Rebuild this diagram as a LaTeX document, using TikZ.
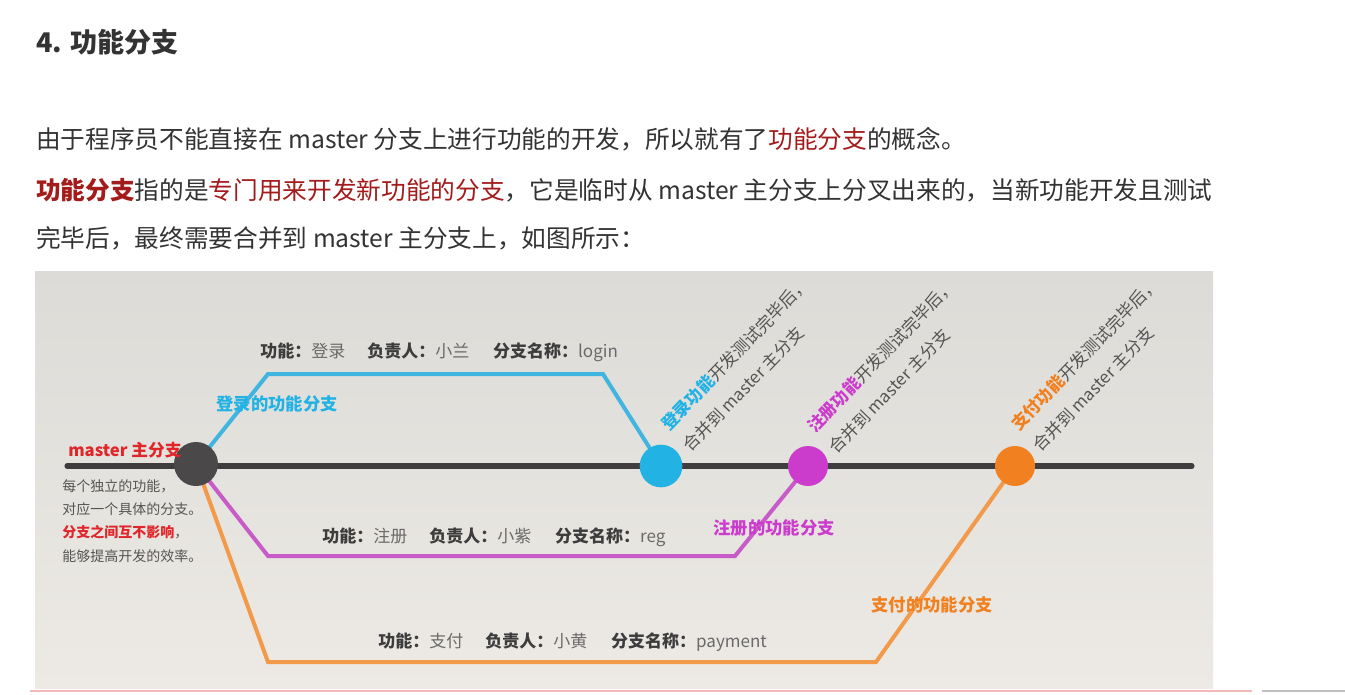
\documentclass[tikz,border=0pt]{standalone}
\usepackage{fontspec}
\setmainfont{Noto Sans CJK SC}
\definecolor{textgray}{HTML}{333333}
\definecolor{darkred}{HTML}{A31B1B}
\definecolor{keygray}{HTML}{3D3D3D}
\definecolor{valgray}{HTML}{6A6A6A}
\definecolor{rotgray}{HTML}{555555}
\definecolor{bluec}{HTML}{22B2E4}
\definecolor{bluel}{HTML}{3FB5E0}
\definecolor{magc}{HTML}{CC3CCC}
\definecolor{magl}{HTML}{C75BC7}
\definecolor{orgc}{HTML}{F08020}
\definecolor{orgl}{HTML}{F2994A}
\definecolor{masterc}{HTML}{4A4848}
\definecolor{masterl}{HTML}{3F3D3D}
\definecolor{bgtop}{HTML}{DCDBD7}
\definecolor{bgbot}{HTML}{EDEAE5}
\definecolor{brightred}{HTML}{E0262A}
\definecolor{pinkline}{HTML}{F2B8B8}
\pgfdeclarelayer{bg}
\pgfdeclarelayer{lines}
\pgfsetlayers{bg,lines,main}
\newcommand{\kv}[2]{{\bfseries\color{keygray}#1：}{\color{valgray}#2}}
\begin{document}
\begin{tikzpicture}[x=0.75pt,y=-0.75pt,
  txt/.style={inner sep=0pt, anchor=base west, text=textgray},
  para/.style={txt, font=\fontsize{18.5}{20}\selectfont},
  lbl/.style={txt, font=\fontsize{12.75}{14}\selectfont},
  side/.style={txt, font=\fontsize{10.5}{12}\selectfont, text=rotgray},
  rot/.style={inner sep=0pt, anchor=south west, rotate=46, text=rotgray, align=left, font=\fontsize{12.7}{22.8}\selectfont},
  brlbl/.style={inner sep=0pt, font=\bfseries\fontsize{13}{15}\selectfont},
  dot/.style={circle, inner sep=0pt, minimum size=#1},
  branch/.style={line width=3pt, line join=miter}]
\useasboundingbox (0,0) rectangle (1345,694);
\begin{pgfonlayer}{bg}
\fill[white] (0,0) rectangle (1345,694);
\shade[top color=bgtop, bottom color=bgbot] (35,271) rectangle (1213,688);
\draw[pinkline, line width=1pt] (30,691) -- (1252,691);
\draw[black!25, line width=0.8pt] (1262,691) -- (1345,691);
\end{pgfonlayer}

% heading and paragraphs
\node[txt, font=\bfseries\fontsize{20.3}{22}\selectfont] (title) at (36,52) {4. 功能分支};
\node[para] (p1) at (36,148) {由于程序员不能直接在 master 分支上进行功能的开发，所以就有了\textcolor{darkred}{功能分支}的概念。};
\node[para] (p2) at (36,199) {\textcolor{darkred}{\bfseries 功能分支}指的是\textcolor{darkred}{专门用来开发新功能的分支}，它是临时从 master 主分支上分叉出来的，当新功能开发且测试};
\node[para] (p3) at (36,247) {完毕后，最终需要合并到 master 主分支上，如图所示：};

% circles
\node[dot=33pt, fill=masterc] (m) at (196,464) {};
\node[dot=32pt, fill=bluec] (b) at (661,466) {};
\node[dot=30pt, fill=magc] (r) at (808,466) {};
\node[dot=30pt, fill=orgc] (o) at (1015,466) {};

% corners
\coordinate (b1) at (268,374);
\coordinate (b2) at (603,374);
\coordinate (r1) at (268,556);
\coordinate (r2) at (735,556);
\coordinate (o1) at (268,662);
\coordinate (o2) at (876,662);
\coordinate (ml) at (67,466);
\coordinate (mr) at (1192,466);

\begin{pgfonlayer}{lines}
\draw[masterl, line width=3.8pt, line cap=round] (ml) -- (mr);
\draw[branch, bluel] (m.center) -- (b1) -- (b2) -- (b.center);
\draw[branch, magl] (m.center) -- (r1) -- (r2) -- (r.center);
\draw[branch, orgl] (m.center) -- (o1) -- (o2) -- (o.center);
\end{pgfonlayer}

% branch info labels
\node[lbl] (lb) at (260,357) {\kv{功能}{登录}\hspace{1.3em}\kv{负责人}{小兰}\hspace{1.4em}\kv{分支名称}{login}};
\node[lbl] (lr) at (322,542) {\kv{功能}{注册}\hspace{1.3em}\kv{负责人}{小紫}\hspace{1.4em}\kv{分支名称}{reg}};
\node[lbl] (lo) at (378,647) {\kv{功能}{支付}\hspace{1.3em}\kv{负责人}{小黄}\hspace{1.4em}\kv{分支名称}{payment}};

% branch names
\node[brlbl, text=bluec] (nb) at (277,404) {登录的功能分支};
\node[brlbl, text=magc] (nr) at (774,528) {注册的功能分支};
\node[brlbl, text=orgc] (no) at (932,605) {支付的功能分支};
\node[txt, font=\bfseries\fontsize{12.5}{14}\selectfont, text=brightred] (nm) at (68,456) {master 主分支};

% side notes
\node[side] (s1) at (62,491) {每个独立的功能，};
\node[side] (s2) at (62,514) {对应一个具体的分支。};
\node[side] (s3) at (62,537) {{\bfseries\color{brightred}分支之间互不影响}，};
\node[side] (s4) at (62,561) {能够提高开发的效率。};

% rotated notes
\node[rot] (tb) at (692,454) {{\bfseries\color{bluec}登录功能}开发测试完毕后，\\合并到 master 主分支};
\node[rot] (tr) at (838,456) {{\bfseries\color{magc}注册功能}开发测试完毕后，\\合并到 master 主分支};
\node[rot] (to) at (1042,454) {{\bfseries\color{orgc}支付功能}开发测试完毕后，\\合并到 master 主分支};
\end{tikzpicture}
\end{document}
